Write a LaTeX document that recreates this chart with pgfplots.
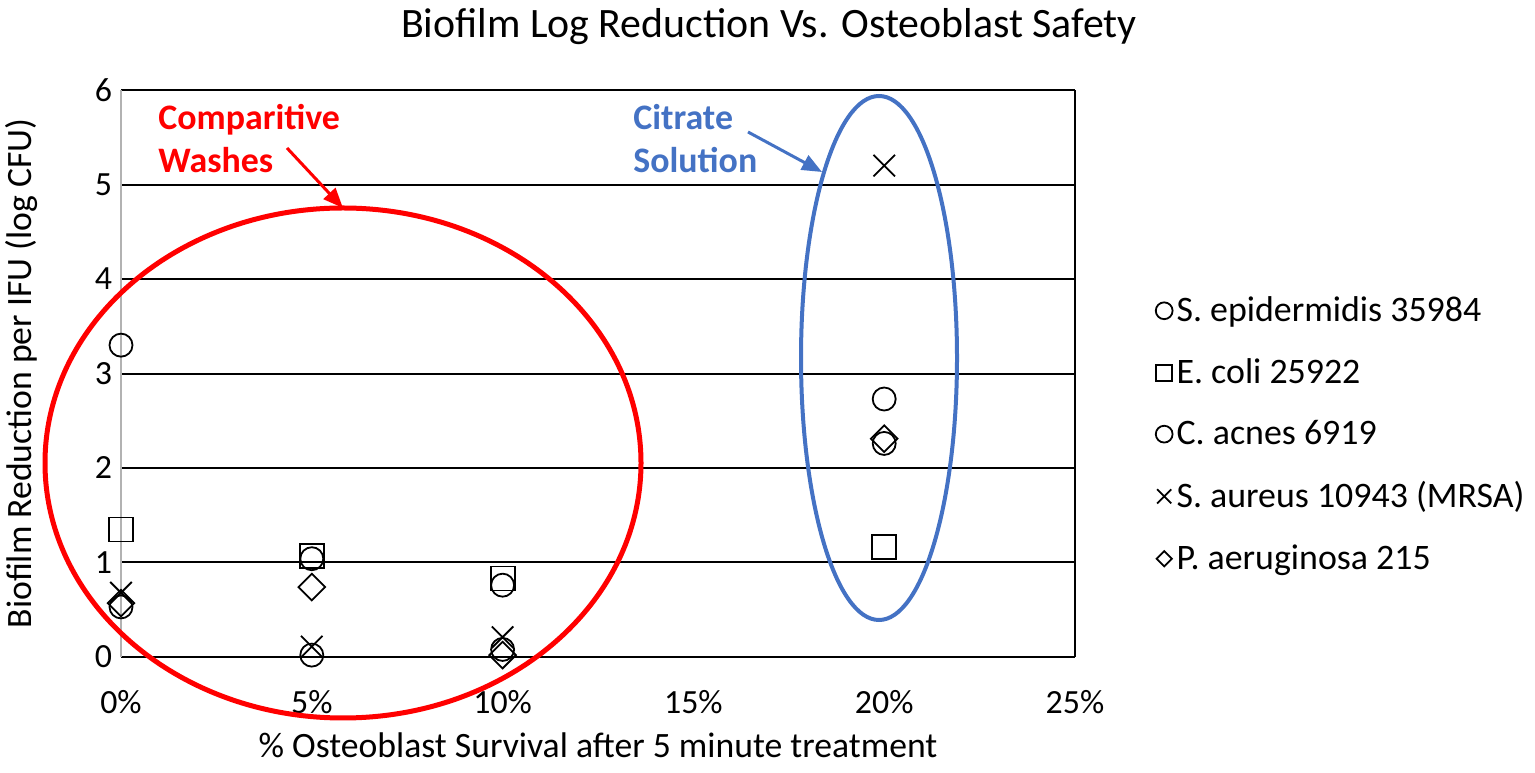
\documentclass[border=0pt]{standalone}
\usepackage{pgfplots}
\pgfplotsset{compat=1.18}
\usepackage{fontspec}
\setmainfont{Carlito}
\usetikzlibrary{arrows.meta}
\definecolor{cred}{RGB}{255,0,0}
\definecolor{cblue}{RGB}{68,114,196}
\begin{document}
\begin{tikzpicture}
\useasboundingbox (0,0) rectangle (767.5bp,386.5bp);
\begin{axis}[at={(60.5bp,58bp)}, anchor=south west, scale only axis,
  width=477bp, height=283.5bp,
  xmin=0, xmax=25, ymin=0, ymax=6,
  xtick={0,5,10,15,20,25}, xticklabels={0\%,5\%,10\%,15\%,20\%,25\%},
  ytick={0,1,2,3,4,5,6},
  /pgf/number format/assume math mode=true,
  axis line style={draw=none}, major tick length=0,
  ymajorgrids, major grid style={black, line width=1bp},
  ticklabel style={font=\fontsize{17}{20}\selectfont},
  xticklabel style={yshift=-13bp},
  yticklabel style={xshift=-1bp},
  xlabel={\% Osteoblast Survival after 5 minute treatment},
  ylabel={Biofilm Reduction per IFU (log CFU)},
  label style={font=\fontsize{17.9}{21}\selectfont},
  xlabel style={at={(axis description cs:0.5,-0.155)}, anchor=center},
  ylabel style={at={(axis description cs:-0.1038,0.5)}, anchor=center},
  clip=false,
  legend cell align=left,
  legend style={at={(axis cs:26.95,3.9)}, anchor=north west, draw=none, fill=none,
    font=\fontsize{18}{21}\selectfont, row sep=13bp,
    /tikz/every even column/.append style={column sep=3bp}},
  legend image code/.code={\draw[#1] plot coordinates {(0bp,0bp)};},
]
\draw[gray!60, line width=1bp] (axis cs:0,0) -- (axis cs:0,6);
\draw[black, line width=1bp] (axis cs:25,0) -- (axis cs:25,6);
\addplot[only marks, mark=o, mark size=5.75bp, line width=0.9bp,
  legend image post style={mark size=4.2bp}] coordinates {(0,3.30)(5,1.04)(10,0.76)(20,2.73)};
\addlegendentry{S. epidermidis 35984}
\addplot[only marks, mark=square, mark size=6bp, line width=0.9bp,
  legend image post style={mark size=4bp}] coordinates {(0,1.35)(5,1.07)(10,0.83)(20,1.16)};
\addlegendentry{E. coli 25922}
\addplot[only marks, mark=o, mark size=5.75bp, line width=0.9bp,
  legend image post style={mark size=4.2bp}] coordinates {(0,0.53)(5,0.02)(10,0.08)(20,2.26)};
\addlegendentry{C. acnes 6919}
\addplot[only marks, mark=x, mark size=7.6bp, line width=0.9bp,
  legend image post style={mark size=5bp}] coordinates {(0,0.68)(5,0.11)(10,0.21)(20,5.20)};
\addlegendentry{S. aureus 10943 (MRSA)}
\addplot[only marks, mark=square, mark size=4.7bp, mark options={rotate=45}, line width=0.9bp,
  legend image post style={mark size=2.7bp}] coordinates {(0,0.57)(5,0.74)(10,0.02)(20,2.31)};
\addlegendentry{P. aeruginosa 215}
\end{axis}
\node[font=\fontsize{21}{25}\selectfont] at (384.5bp,373bp) {Biofilm Log Reduction Vs. Osteoblast Safety};
\draw[cred, line width=2.5bp] (171.5bp,155bp) ellipse [x radius=149bp, y radius=127.5bp];
\draw[cblue, line width=2bp] (439.5bp,207.5bp) ellipse [x radius=39bp, y radius=131bp];
\node[cred, font=\fontsize{18}{21.5}\selectfont\bfseries, align=left, anchor=west, inner sep=0pt] at (79bp,317.25bp) {Comparitive\\Washes};
\node[cblue, font=\fontsize{18}{21.5}\selectfont\bfseries, align=left, anchor=west, inner sep=0pt] at (316.5bp,317.25bp) {Citrate\\Solution};
\draw[cred, line width=1.5bp, -{Triangle[length=10bp, width=8bp]}] (143.5bp,312.5bp) -- (171.5bp,282.5bp);
\draw[cblue, line width=1.5bp, -{Triangle[length=10bp, width=8bp]}] (374bp,320.5bp) -- (411bp,300.5bp);
\end{tikzpicture}
\end{document}
